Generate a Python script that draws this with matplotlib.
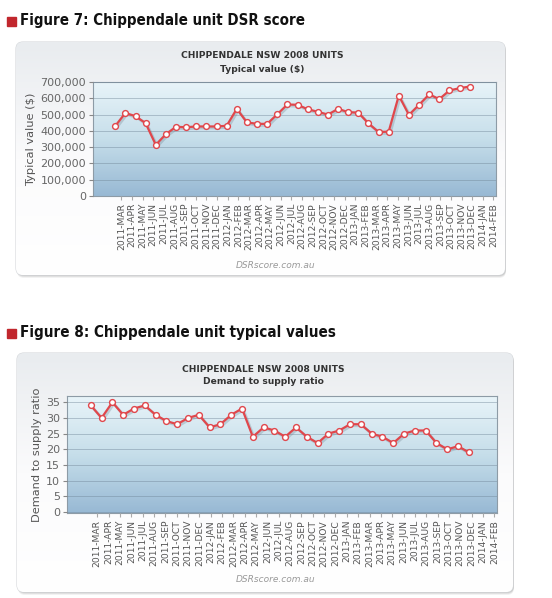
import numpy as np
import matplotlib
matplotlib.use("Agg")
import matplotlib.pyplot as plt
import matplotlib.transforms as mtransforms
from matplotlib import font_manager as fm
from matplotlib.patches import FancyBboxPatch, Rectangle
from matplotlib.colors import LinearSegmentedColormap

# data
months = ["2011-MAR", "2011-APR", "2011-MAY", "2011-JUN", "2011-JUL", "2011-AUG",
          "2011-SEP", "2011-OCT", "2011-NOV", "2011-DEC", "2012-JAN", "2012-FEB",
          "2012-MAR", "2012-APR", "2012-MAY", "2012-JUN", "2012-JUL", "2012-AUG",
          "2012-SEP", "2012-OCT", "2012-NOV", "2012-DEC", "2013-JAN", "2013-FEB",
          "2013-MAR", "2013-APR", "2013-MAY", "2013-JUN", "2013-JUL", "2013-AUG",
          "2013-SEP", "2013-OCT", "2013-NOV", "2013-DEC", "2014-JAN", "2014-FEB"]

typical_value = [430000, 510000, 490000, 447000, 314000, 380000, 425000, 422000,
                 427000, 427000, 427000, 431000, 535000, 452000, 443000, 443000,
                 502000, 562000, 560000, 533000, 517000, 500000, 535000, 515000,
                 512000, 446000, 393000, 395000, 617000, 498000, 560000, 624000,
                 595000, 648000, 662000, 672000]

demand_supply = [34, 30, 35, 31, 33, 34, 31, 29, 28, 30, 31, 27,
                 28, 31, 33, 24, 27, 26, 24, 27, 24, 22, 25, 26,
                 28, 28, 25, 24, 22, 25, 26, 26, 22, 20, 21, 19]

value_ticks = [0, 100000, 200000, 300000, 400000, 500000, 600000, 700000]
value_ticklabels = ["0", "100,000", "200,000", "300,000", "400,000",
                    "500,000", "600,000", "700,000"]
ratio_ticks = [0, 5, 10, 15, 20, 25, 30, 35]
ratio_ticklabels = ["0", "5", "10", "15", "20", "25", "30", "35"]

W, H = 552, 598
fig = plt.figure(figsize=(W / 100, H / 100), dpi=100)
fig.patch.set_facecolor("white")

bg = fig.add_axes([0, 0, 1, 1], zorder=-5)
bg.axis("off")

panel_cmap = LinearSegmentedColormap.from_list("panel", ["#e9ecef", "#fbfbfc", "#ffffff"])
plot_cmap = LinearSegmentedColormap.from_list("plot", ["#e8f4f9", "#c6deea", "#98b9d4"])

# a narrow bold face for the headings if one is installed
narrow = [f.fname for f in fm.fontManager.ttflist
          if ("Condensed-Bold" in f.fname or "Narrow-Bold" in f.fname
              or "CondensedBold" in f.fname) and "Oblique" not in f.fname
          and "Italic" not in f.fname]
if narrow:
    head_font = fm.FontProperties(fname=sorted(narrow)[0], size=13)
else:
    head_font = fm.FontProperties(family="Roboto", weight="bold", size=13)


def heading(y, text, width):
    bg.add_patch(Rectangle((7, y - 4.5), 9, 9, color="#c1272d"))
    t = bg.text(20, y, text, fontproperties=head_font.copy(), color="#111111",
                va="center", ha="left")
    fig.canvas.draw()
    w = t.get_window_extent().width
    t.set_fontsize(13 * width / w)


def panel(x0, y0, x1, y1):
    for k, a in [(4, 0.05), (3, 0.07), (2, 0.09)]:
        bg.add_patch(FancyBboxPatch((x0 + 1, y0 + k - 1), x1 - x0, y1 - y0,
                                    boxstyle="round,pad=0,rounding_size=7",
                                    fc="black", ec="none", alpha=a))
    box = FancyBboxPatch((x0, y0), x1 - x0, y1 - y0,
                         boxstyle="round,pad=0,rounding_size=7",
                         fc="white", ec="#d4d7da", lw=0.8)
    bg.add_patch(box)
    im = bg.imshow(np.linspace(0, 1, 100)[:, None], extent=(x0, x1, y1, y0),
                   cmap=panel_cmap, aspect="auto", origin="upper", zorder=1.5)
    im.set_clip_path(box)


def chart(l, t, r, b, values, ticks, ticklabels, ylim, ylabel):
    ax = fig.add_axes([l / W, 1 - b / H, (r - l) / W, (b - t) / H])
    ax.imshow(np.linspace(0, 1, 100)[:, None], extent=(0, 1, 0, 1),
              transform=ax.transAxes, cmap=plot_cmap, aspect="auto", zorder=0)
    x = np.arange(len(values))
    shadow = ax.transData + mtransforms.ScaledTranslation(1.5 / 100, -1.5 / 100, fig.dpi_scale_trans)
    ax.plot(x, values, color="#5a6a78", lw=2, alpha=0.25, transform=shadow, zorder=2)
    ax.plot(x, values, color="#e0474c", lw=1.6, marker="o", ms=4.2, mfc="white",
            mec="#e0474c", mew=1, zorder=3)
    ax.set_xlim(-2.2, 37.6)
    ax.set_ylim(*ylim)
    ax.set_yticks(ticks)
    ax.set_yticklabels(ticklabels)
    ax.set_xticks(0.6 + 1.05 * np.arange(len(months)))
    ax.set_xticklabels(months, rotation=90, fontsize=6.6, color="#555555")
    ax.tick_params(axis="y", labelsize=8, labelcolor="#666666", length=3, color="#888888", pad=2)
    ax.tick_params(axis="x", length=3, color="#aaaaaa", pad=2)
    ax.grid(axis="y", color="#6f8496", ls=(0, (1.2, 1.2)), lw=0.6)
    ax.set_axisbelow(False)
    for s in ax.spines.values():
        s.set_color("#8d9ba6")
        s.set_linewidth(0.8)
    ax.set_ylabel(ylabel, fontsize=8.2, color="#555555", labelpad=3)
    return ax


heading(21, "Figure 7: Chippendale unit DSR score", 284)
panel(16, 42, 505, 275)
chart(93, 82, 496, 196, typical_value, value_ticks, value_ticklabels,
      (0, 700000), "Typical value ($)")
bg.text(262, 56, "CHIPPENDALE NSW 2008 UNITS", fontsize=6.6, fontweight="bold",
        color="#333333", ha="center", va="center", zorder=4)
bg.text(262, 69, "Typical value ($)", fontsize=6.6, fontweight="bold",
        color="#333333", ha="center", va="center", zorder=4)
bg.text(276, 265, "DSRscore.com.au", fontsize=6.5, style="italic",
        color="#999999", ha="center", va="center", zorder=4)

heading(333, "Figure 8: Chippendale unit typical values", 316)
panel(17, 353, 513, 592)
chart(67, 396, 497, 513, demand_supply, ratio_ticks, ratio_ticklabels,
      (-0.3, 37), "Demand to supply ratio")
bg.text(263, 370, "CHIPPENDALE NSW 2008 UNITS", fontsize=6.6, fontweight="bold",
        color="#333333", ha="center", va="center", zorder=4)
bg.text(263, 382, "Demand to supply ratio", fontsize=6.6, fontweight="bold",
        color="#333333", ha="center", va="center", zorder=4)
bg.text(276, 580, "DSRscore.com.au", fontsize=6.5, style="italic",
        color="#999999", ha="center", va="center", zorder=4)

bg.set_xlim(0, W)
bg.set_ylim(H, 0)

fig.savefig("out.png", dpi=100, facecolor="white")
